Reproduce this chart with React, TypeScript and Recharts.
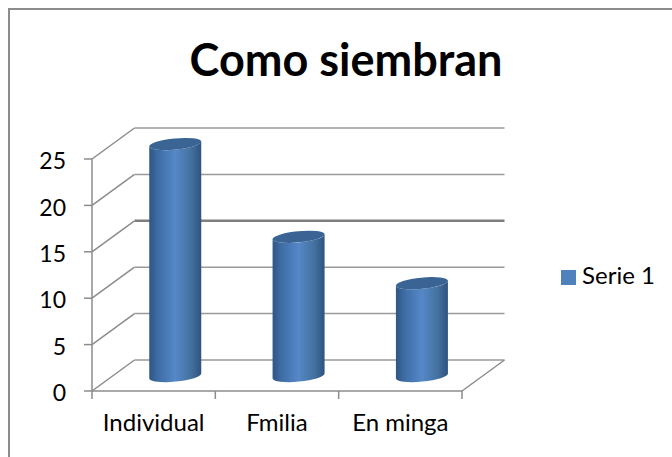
import React from "react";
import { BarChart, Bar, XAxis, YAxis, CartesianGrid, Legend } from "recharts";

const categories = ["Individual", "Fmilia", "En minga"];
const serie1 = [25, 15, 10];
const yTicks = [0, 5, 10, 15, 20, 25];
const xBoundaries = [0, 1, 2, 3];
const seriesName = "Serie 1";
const chartTitle = "Como siembran";

const data = categories.map((name, i) => ({ name, value: serie1[i], slot: i + 1 }));

const FONT = "Lato, Carlito, sans-serif";
const AXIS = "#8c8c8c";
const DEPTH_X = 42.5;
const DEPTH_Y = 31;

function GridLine(props: any) {
  const { x1, x2, y1, index } = props;
  const bx = x1 + DEPTH_X;
  const by = y1 - DEPTH_Y;
  return (
    <g key={`g-${index}`} fill="none" stroke={AXIS}>
      <path d={`M${x1},${y1}L${bx},${by}`} strokeWidth={1.5} />
      <path d={`M${bx},${by}L${x2 + DEPTH_X},${by}`} strokeWidth={yTicks[index] === 15 ? 2.4 : 1.5} stroke={yTicks[index] === 15 ? "#7f7f7f" : "#9a9a9a"} />
      {yTicks[index] === 0 ? <path d={`M${x2},${y1}L${x2 + DEPTH_X},${by}`} strokeWidth={1.5} /> : null}
    </g>
  );
}

function Cylinder(props: any) {
  const { x, y, width, height, index } = props;
  const dx = DEPTH_X / 2;
  const dy = DEPTH_Y / 2 - 0.5;
  const l = x + dx;
  const r = l + width;
  const rx = width / 2;
  const ry = 5.6;
  const tilt = 2.5;
  const top = y - dy;
  const bot = y + height - dy;
  const id = `cyl-${index}`;
  const cx = l + rx;
  return (
    <g>
      <defs>
        <linearGradient id={id} x1="0" y1="0" x2="1" y2="0">
          <stop offset="0" stopColor="#2f5686" />
          <stop offset="0.18" stopColor="#3f6ea6" />
          <stop offset="0.5" stopColor="#5588c8" />
          <stop offset="0.8" stopColor="#44719f" />
          <stop offset="1" stopColor="#2e5380" />
        </linearGradient>
      </defs>
      <path
        d={`M${l},${top + tilt}L${l},${bot + tilt}A${rx},${ry} -5.5 0 0 ${r},${bot - tilt}L${r},${top - tilt}A${rx},${ry} -5.5 0 1 ${l},${top + tilt}Z`}
        fill={`url(#${id})`}
      />
      <ellipse cx={cx} cy={top} rx={rx + 0.2} ry={ry} fill="#3a6493" transform={`rotate(-5.5 ${cx} ${top})`} />
    </g>
  );
}

export default function App() {
  return (
    <div style={{ position: "absolute", left: 0, top: 0, width: 672, height: 457, overflow: "hidden", background: "#fff" }}>
      <div style={{ position: "absolute", left: 8, top: 8, width: 800, height: 600, border: "2px solid #8c8c8c", boxSizing: "border-box" }} />
      <div style={{ position: "absolute", left: 0, top: 32, width: 692, textAlign: "center", fontFamily: FONT, fontWeight: 700, fontSize: 45, lineHeight: "54px", color: "#000" }}>
        {chartTitle}
      </div>
      <div style={{ position: "absolute", left: 0, top: 0 }}>
        <BarChart width={672} height={457} data={data} margin={{ top: 159, right: 210, bottom: 0, left: 0 }} barSize={52}>
          <CartesianGrid vertical={false} horizontal={(p: any) => <GridLine {...p} />} />
          <XAxis
            xAxisId={0}
            type="number"
            dataKey="slot"
            domain={[0, 3]}
            allowDataOverflow
            ticks={xBoundaries}
            interval={0}
            tick={() => <g />}
            height={1}
            tickSize={8}
            axisLine={{ stroke: AXIS, strokeWidth: 1.5 }}
            tickLine={{ stroke: AXIS, strokeWidth: 1.5 }}
          />
          <XAxis
            xAxisId="cat"
            dataKey="name"
            height={65}
            axisLine={false}
            tickLine={false}
            tickMargin={16}
            interval={0}
            tick={{ fill: "#000", fontFamily: FONT, fontSize: 24 }}
          />
          <YAxis
            width={92}
            domain={[0, 25]}
            ticks={yTicks}
            tickSize={8}
            tickMargin={18}
            axisLine={{ stroke: AXIS, strokeWidth: 1.5 }}
            tickLine={{ stroke: AXIS, strokeWidth: 1.5 }}
            tick={{ fill: "#000", fontFamily: FONT, fontSize: 23, dy: 2 }}
          />
          <Legend
            layout="horizontal"
            verticalAlign="middle"
            align="center"
            iconType="square"
            iconSize={15}
            wrapperStyle={{ position: "absolute", left: 554, top: 260, width: 118, fontFamily: FONT, fontSize: 24 }}
            formatter={(v: string) => <span style={{ color: "#000", marginLeft: 2 }}>{v}</span>}
          />
          <Bar xAxisId="cat" dataKey="value" name={seriesName} fill="#4f81bd" shape={(p: any) => <Cylinder {...p} />} isAnimationActive={false} />
        </BarChart>
      </div>
    </div>
  );
}
